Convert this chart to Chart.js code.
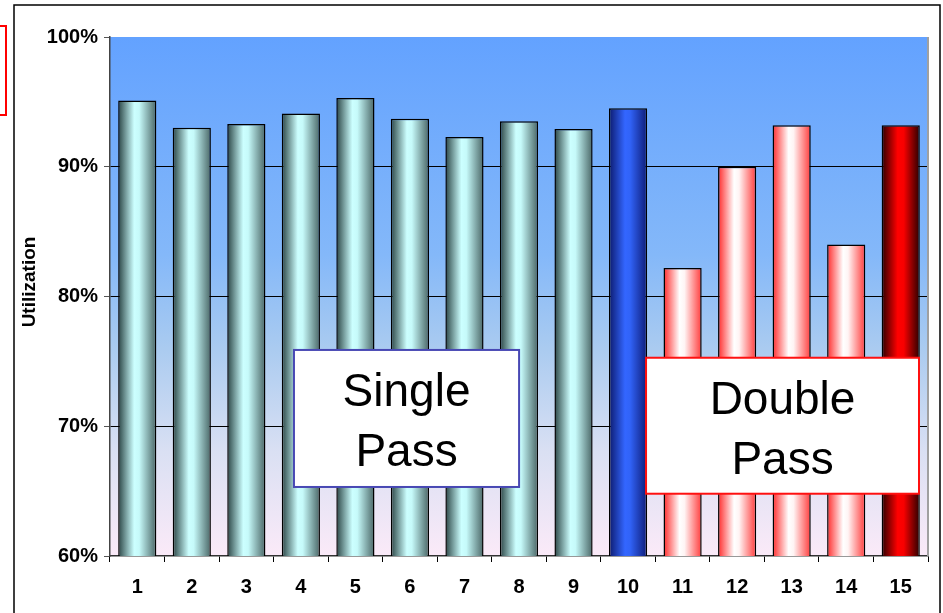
<!DOCTYPE html>
<html>
<head>
<meta charset="utf-8">
<script src="https://cdn.jsdelivr.net/npm/chart.js@4/dist/chart.umd.min.js"></script>
<style>
  html, body { margin: 0; padding: 0; background: #ffffff; }
  #wrap { width: 943px; height: 613px; position: relative; }
</style>
</head>
<body>
<div id="wrap"><canvas id="c" width="943" height="613"></canvas></div>
<script>
// Run numbers along the x axis
const categories = ['1', '2', '3', '4', '5', '6', '7', '8', '9', '10', '11', '12', '13', '14', '15'];
// Utilization per run, in percent
const utilization = [95.1, 93.0, 93.3, 94.1, 95.3, 93.7, 92.3, 93.5, 92.9, 94.5, 82.2, 90.0, 93.2, 84.0, 93.2];
// Fill style per run: single pass (teal), single pass average (blue), double pass (pink), double pass average (red)
const barStyles = ['teal', 'teal', 'teal', 'teal', 'teal', 'teal', 'teal', 'teal', 'teal', 'blue', 'pink', 'pink', 'pink', 'pink', 'red'];
// Y axis tick values
const yTicks = [60, 70, 80, 90, 100];
const yTitle = 'Utilization';
const groupLabels = [['Single', 'Pass'], ['Double', 'Pass']];

const FONT = '"Liberation Sans", Arial, Helvetica, sans-serif';

// Cylinder-like horizontal shading for each bar style
const shading = {
  teal: [[0, '#2A4444'], [0.42, '#CCFFFF'], [0.55, '#C6FAFA'], [1, '#4A6666']],
  blue: [[0, '#0C1A6E'], [0.42, '#3366FF'], [0.55, '#3163F8'], [1, '#0E1C78']],
  pink: [[0, '#FF2A2A'], [0.42, '#FFFFFF'], [0.55, '#FFF4F4'], [1, '#FF3C3C']],
  red:  [[0, '#2A0000'], [0.42, '#FF0000'], [0.58, '#F80000'], [1, '#2A0000']]
};

const BAR_PCT = 0.7;

function barFill(ctx) {
  const chart = ctx.chart;
  const style = shading[barStyles[ctx.dataIndex]];
  const xs = chart.scales.x;
  if (!chart.chartArea || !xs) return style[1][1];
  const cx = xs.getPixelForValue(ctx.dataIndex);
  const half = (xs.width / categories.length) * BAR_PCT / 2;
  const g = chart.ctx.createLinearGradient(cx - half, 0, cx + half, 0);
  style.forEach(([p, c]) => g.addColorStop(p, c));
  return g;
}

// Page decorations, plot background and group captions
const decorations = {
  id: 'decorations',
  beforeDraw(chart) {
    const { ctx, chartArea: a } = chart;
    ctx.save();
    // outer frame
    ctx.strokeStyle = '#000';
    ctx.lineWidth = 1.5;
    ctx.beginPath();
    ctx.moveTo(14, 613);
    ctx.lineTo(14, 5);
    ctx.lineTo(940, 5);
    ctx.lineTo(940, 613);
    ctx.stroke();
    // red tab at the left edge
    ctx.strokeStyle = '#FF0000';
    ctx.lineWidth = 2;
    ctx.strokeRect(-5, 26, 11, 89);
    // plot background
    const g = ctx.createLinearGradient(0, a.top, 0, a.bottom);
    g.addColorStop(0, '#63A2FF');
    g.addColorStop(0.42, '#84B8F9');
    g.addColorStop(0.6, '#AACBF0');
    g.addColorStop(0.8, '#DAE0F3');
    g.addColorStop(1, '#FBEAF8');
    ctx.fillStyle = g;
    ctx.fillRect(a.left, a.top, a.right - a.left, a.bottom - a.top);
    // y axis title
    ctx.fillStyle = '#000';
    ctx.font = 'bold 19px ' + FONT;
    ctx.textAlign = 'center';
    ctx.textBaseline = 'middle';
    ctx.translate(30, a.top + (a.bottom - a.top) * 0.472);
    ctx.rotate(-Math.PI / 2);
    ctx.fillText(yTitle, 0, 0);
    ctx.restore();
  },
  afterDatasetsDraw(chart) {
    const { ctx, chartArea: a } = chart;
    const W = a.right - a.left, H = a.bottom - a.top;
    ctx.save();
    // right edge of plot area
    ctx.strokeStyle = '#A0A0A0';
    ctx.lineWidth = 2;
    ctx.beginPath();
    ctx.moveTo(a.right, a.top);
    ctx.lineTo(a.right, a.bottom);
    ctx.stroke();

    const boxes = [
      { l: 0.2249, r: 0.5001, t: 0.603, b: 0.867, stroke: '#4848B4', lines: groupLabels[0] },
      { l: 0.6553, r: 0.9890, t: 0.618, b: 0.880, stroke: '#FF1010', lines: groupLabels[1] }
    ];
    boxes.forEach(bx => {
      const x0 = a.left + bx.l * W, x1 = a.left + bx.r * W;
      const y0 = a.top + bx.t * H, y1 = a.top + bx.b * H;
      ctx.fillStyle = '#FFFFFF';
      ctx.fillRect(x0, y0, x1 - x0, y1 - y0);
      ctx.strokeStyle = bx.stroke;
      ctx.lineWidth = 2;
      ctx.strokeRect(x0, y0, x1 - x0, y1 - y0);
      ctx.fillStyle = '#000';
      ctx.font = '46px ' + FONT;
      ctx.textAlign = 'center';
      ctx.textBaseline = 'alphabetic';
      const cx = (x0 + x1) / 2;
      ctx.fillText(bx.lines[0], cx, y0 + 56);
      ctx.fillText(bx.lines[1], cx, y0 + 116);
    });
    ctx.restore();
  }
};

new Chart(document.getElementById('c'), {
  type: 'bar',
  data: {
    labels: categories,
    datasets: [{
      data: utilization,
      backgroundColor: barFill,
      borderColor: '#000',
      borderWidth: 1.5,
      barPercentage: BAR_PCT,
      categoryPercentage: 1.0
    }]
  },
  options: {
    responsive: false,
    animation: false,
    devicePixelRatio: 1,
    layout: { padding: { top: 37, right: 15, left: 0, bottom: 0 } },
    plugins: { legend: { display: false }, tooltip: { enabled: false } },
    scales: {
      x: {
        afterFit(scale) { scale.height = 57; },
        grid: { offset: true, drawOnChartArea: false, drawTicks: true, tickLength: 6, tickColor: '#000', lineWidth: 1 },
        border: { color: '#333', width: 1.5 },
        ticks: { color: '#000', font: { family: FONT, size: 20, weight: 'bold' }, padding: 13 }
      },
      y: {
        min: 60,
        max: 100,
        afterFit(scale) { scale.width = 110; },
        afterBuildTicks(scale) { scale.ticks = yTicks.map(v => ({ value: v })); },
        grid: {
          color: c => (c.tick && (c.tick.value === 60 || c.tick.value === 100)) ? 'rgba(0,0,0,0)' : '#000',
          lineWidth: 1,
          drawTicks: true,
          tickLength: 6,
          tickColor: '#555'
        },
        border: { color: '#444', width: 1.5 },
        ticks: {
          color: '#000',
          font: { family: FONT, size: 20, weight: 'bold' },
          padding: 6,
          callback: v => v + '%'
        }
      }
    }
  },
  plugins: [decorations]
});
</script>
</body>
</html>
